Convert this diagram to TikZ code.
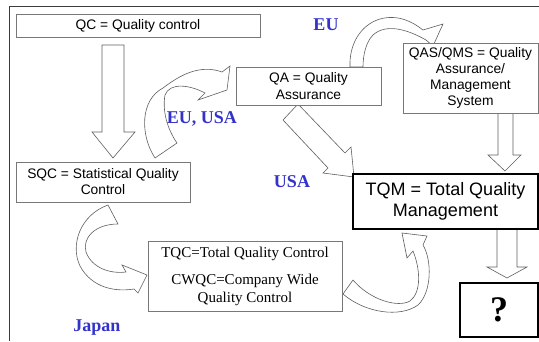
\documentclass[tikz,border=0pt]{standalone}
\usepackage{fontspec}
\setmainfont{Liberation Sans}
\newfontfamily\timesf{Liberation Serif}
\definecolor{boxgray}{RGB}{120,120,120}
\definecolor{arrgray}{RGB}{95,95,95}
\definecolor{lblblue}{RGB}{51,51,204}
\definecolor{framegray}{RGB}{60,60,60}
\begin{document}
\begin{tikzpicture}[x=1pt,y=-1pt,
  box/.style={draw=boxgray,line width=0.8pt,fill=white,align=center,inner sep=0pt},
  bigbox/.style={draw=black,line width=2.8pt,fill=white,align=center,inner sep=0pt},
  blk/.style={draw=arrgray,line width=0.6pt,fill=white,line join=miter},
  lbl/.style={text=lblblue,font=\timesf\bfseries\fontsize{18}{20}\selectfont,inner sep=0pt,anchor=base},
  sans/.style={font=\fontsize{13.8}{16}\selectfont}
]
\useasboundingbox (0,0) rectangle (539,341);
\draw[line width=1pt, framegray] (9,341) -- (9,6) -- (539,6);

% straight block arrows
\draw[blk] (102,45) -- (124,45) -- (124,132) -- (135,132) -- (113,158) -- (92,132) -- (102,132) -- cycle;
\draw[blk] (498,110) -- (513,110) -- (513,155) -- (521,155) -- (505,171) -- (488,155) -- (498,155) -- cycle;
\draw[blk] (497,226) -- (517,226) -- (517,267) -- (527,267) -- (507,278) -- (487,267) -- (497,267) -- cycle;
\draw[blk] (298,104) -- (345,153) -- (351,147) -- (354,177) -- (323,173) -- (328,168) -- (283,120) -- cycle;

% curved arrows
\draw[blk] (155,158) .. controls (140,135) and (140,100) .. (163,88)
  .. controls (180,75) and (200,64) .. (222,72) -- (230,66) -- (227,90) -- (198,100) -- (205,93)
  .. controls (190,85) and (170,82) .. (165,95)
  .. controls (162,112) and (168,130) .. (177,143) -- cycle;
\draw[blk] (350,67) .. controls (349,45) and (360,25) .. (380,19)
  .. controls (398,14) and (413,22) .. (423,30) -- (443,24) -- (433,46) -- (426,40)
  .. controls (405,28) and (385,24) .. (373,35)
  .. controls (366,42) and (363,55) .. (363,67) -- cycle;
\draw[blk] (108,205) .. controls (80,215) and (70,245) .. (80,266)
  .. controls (92,288) and (115,292) .. (134,289) -- (138,293) -- (147,275) -- (122,265) -- (126,272)
  .. controls (110,274) and (92,268) .. (86,252)
  .. controls (82,238) and (95,224) .. (118,224) -- cycle;
\draw[blk] (343,294) .. controls (365,313) and (400,318) .. (418,305)
  .. controls (432,292) and (432,260) .. (423,245) -- (427,236) -- (402,233) -- (407,258) -- (413,251)
  .. controls (420,268) and (422,292) .. (410,301)
  .. controls (398,308) and (370,300) .. (353,280) -- cycle;

% boxes
\node[box,sans,minimum width=244pt,minimum height=23pt] (qc) at (138,25.5) {QC = Quality control};
\node[box,sans,minimum width=145pt,minimum height=38pt,font=\fontsize{13.8}{17}\selectfont] (qa) at (308.5,86) {QA = Quality\\Assurance};
\node[box,sans,minimum width=135pt,minimum height=70pt] (qas) at (470.5,78) {QAS/QMS = Quality\\Assurance/\\Management\\System};
\node[box,sans,minimum width=174pt,minimum height=40pt] (sqc) at (103,182) {SQC = Statistical Quality\\Control};
\node[box,minimum width=194pt,minimum height=70pt,font=\timesf\fontsize{15}{18}\selectfont] (tqc) at (245,276) {TQC=Total Quality Control\\[9pt]CWQC=Company Wide\\Quality Control};
\node[bigbox,minimum width=185pt,minimum height=55pt,font=\fontsize{18}{21}\selectfont] (tqm) at (445.5,201.5) {TQM = Total Quality\\Management};
\node[bigbox,minimum width=78pt,minimum height=54pt,font=\timesf\bfseries\fontsize{36}{40}\selectfont] (unk) at (499,310) {?};

% labels
\node[lbl] (eu) at (326,30) {EU};
\node[lbl] (euusa) at (202,123) {EU, USA};
\node[lbl] (usa) at (292,187) {USA};
\node[lbl] (japan) at (97,331) {Japan};
\end{tikzpicture}
\end{document}
